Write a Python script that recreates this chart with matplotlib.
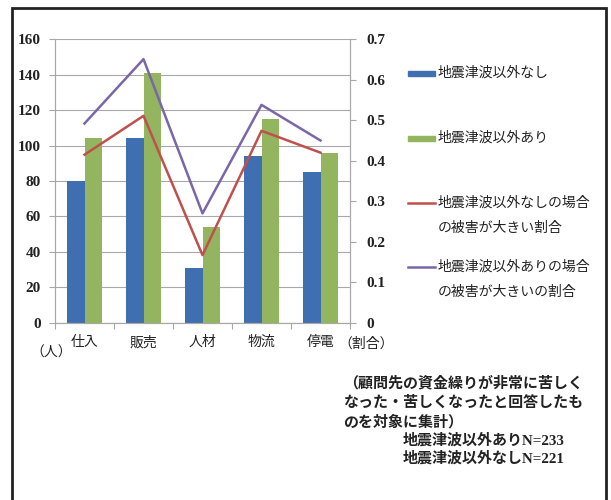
import matplotlib
matplotlib.use("Agg")
import matplotlib.pyplot as plt
import numpy as np
from matplotlib.lines import Line2D
from matplotlib.patches import Rectangle

plt.rcParams['font.family'] = ['Noto Sans CJK JP', 'DejaVu Sans']

categories = ["仕入", "販売", "人材", "物流", "停電"]
none_counts = [80, 104, 31, 94, 85]       # 地震津波以外なし
with_counts = [104, 141, 54, 115, 96]     # 地震津波以外あり
none_ratio = [0.415, 0.511, 0.167, 0.474, 0.42]
with_ratio = [0.492, 0.651, 0.270, 0.538, 0.45]
left_ticks = [0, 20, 40, 60, 80, 100, 120, 140, 160]
right_ticks = [0, 0.1, 0.2, 0.3, 0.4, 0.5, 0.6, 0.7]
right_labels = ["0", "0.1", "0.2", "0.3", "0.4", "0.5", "0.6", "0.7"]
legend_labels = ["地震津波以外なし", "地震津波以外あり",
                 "地震津波以外なしの場合\nの被害が大きい割合",
                 "地震津波以外ありの場合\nの被害が大きいの割合"]
notes = ["（顧問先の資金繰りが非常に苦しく",
         "なった・苦しくなったと回答したも",
         "のを対象に集計）"]
n_labels = ["地震津波以外ありN=233", "地震津波以外なしN=221"]

c_blue = "#3f6fb0"
c_green = "#93b560"
c_red = "#c0504d"
c_purple = "#7a66a8"
grid_c = "#a8a8a8"
txt_c = "#222222"
serif = ['Liberation Serif', 'Noto Sans CJK JP']

W, H = 611, 500
fig = plt.figure(figsize=(W / 100, H / 100), dpi=100)

def fx(px):
    return px / W

def fy(py):
    return 1 - py / H

ax = fig.add_axes([fx(55), fy(322.7), fx(350) - fx(55), fy(39.3) - fy(322.7)])
x = np.arange(len(categories))
bw = 0.29
ax.bar(x - bw / 2, none_counts, bw, color=c_blue, zorder=2)
ax.bar(x + bw / 2, with_counts, bw, color=c_green, zorder=2)
ax.set_xlim(-0.5, len(categories) - 0.5)
ax.set_ylim(0, 160)
ax.set_yticks(left_ticks)
ax.set_yticklabels([str(v) for v in left_ticks], fontfamily='Liberation Serif',
                   fontsize=11, fontweight='bold', color=txt_c)
ax.yaxis.grid(True, color=grid_c, linewidth=0.8, zorder=0)
ax.set_axisbelow(True)
ax.set_xticks(x)
ax.set_xticklabels(categories, fontsize=10, color=txt_c)
ax.tick_params(axis='x', length=0, pad=9)
ax.set_xticks(np.arange(-0.5, len(categories) + 0.5, 1), minor=True)
ax.tick_params(axis='x', which='minor', length=4, color=grid_c, width=0.8)
ax.tick_params(axis='y', length=4, color=grid_c, width=0.8, pad=6)
for s in ['left', 'bottom', 'right']:
    ax.spines[s].set_color(grid_c)
    ax.spines[s].set_linewidth(0.8)
ax.spines['top'].set_visible(False)

ax2 = ax.twinx()
ax2.plot(x, none_ratio, color=c_red, linewidth=1.8, zorder=3)
ax2.plot(x, with_ratio, color=c_purple, linewidth=1.8, zorder=3)
ax2.set_ylim(0, 0.7)
ax2.set_yticks(right_ticks)
ax2.set_yticklabels(right_labels, fontfamily='Liberation Serif',
                    fontsize=11, fontweight='bold', color=txt_c)
ax2.tick_params(axis='y', length=4, color=grid_c, width=0.8, pad=8)
for s in ['left', 'bottom', 'right']:
    ax2.spines[s].set_color(grid_c)
    ax2.spines[s].set_linewidth(0.8)
ax2.spines['top'].set_visible(False)

# Axis unit labels
fig.text(fx(30), fy(353), "（人）", fontsize=10, color=txt_c, va='center', ha='left')
fig.text(fx(338), fy(344), "（割合）", fontsize=10, color=txt_c, va='center', ha='left')

# Legend (manual placement)
leg_y = [73, 138, 203, 267]
for i, lab in enumerate(legend_labels):
    yy = leg_y[i]
    if i < 2:
        col = c_blue if i == 0 else c_green
        fig.add_artist(Rectangle((fx(408), fy(yy + 2.5)), fx(435) - fx(408), fy(yy - 2.5) - fy(yy + 2.5),
                                 transform=fig.transFigure, color=col))
    else:
        col = c_red if i == 2 else c_purple
        fig.add_artist(Line2D([fx(408), fx(435)], [fy(yy), fy(yy)],
                              transform=fig.transFigure, color=col, linewidth=1.8))
    for j, ln in enumerate(lab.split("\n")):
        fig.text(fx(438), fy(yy + j * 24.5), ln, fontsize=10, color=txt_c,
                 va='center', ha='left')

# Notes
note_y = [382, 402, 422]
for ln, yy in zip(notes, note_y):
    fig.text(fx(343), fy(yy), ln, fontsize=10.8, color=txt_c, va='center', ha='left',
             fontweight='bold')
for ln, yy in zip(n_labels, [440, 458]):
    fig.text(fx(403), fy(yy), ln, fontsize=10.8, color=txt_c, va='center', ha='left',
             fontweight='bold', fontfamily=serif)

# Outer frame
fig.add_artist(Rectangle((fx(12), fy(502)), fx(606) - fx(12), fy(8) - fy(502),
                         transform=fig.transFigure, fill=False, edgecolor="#222222",
                         linewidth=2))

fig.savefig("out.png", dpi=100)
